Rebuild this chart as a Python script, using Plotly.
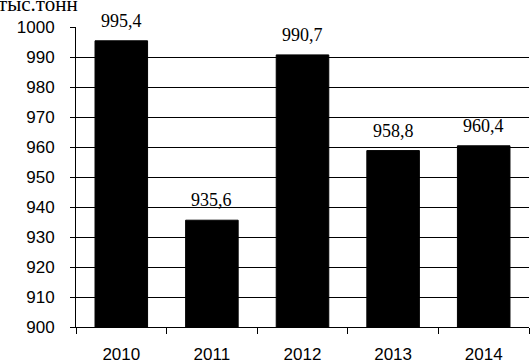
import plotly.graph_objects as go

years = ["2010", "2011", "2012", "2013", "2014"]
values = [995.4, 935.6, 990.7, 958.8, 960.4]
value_labels = ["995,4", "935,6", "990,7", "958,8", "960,4"]
y_ticks = [900, 910, 920, 930, 940, 950, 960, 970, 980, 990, 1000]
unit_label = "тыс.тонн"

fig = go.Figure(
    go.Bar(
        x=years,
        y=values,
        marker=dict(color="black", line=dict(color="black", width=1)),
        width=0.58,
    )
)

annotations = [
    dict(
        x=i,
        y=v,
        xref="x",
        yref="y",
        text=lbl,
        showarrow=False,
        xanchor="center",
        yanchor="bottom",
        yshift=8,
        font=dict(family="Liberation Serif", size=18, color="black"),
    )
    for i, (v, lbl) in enumerate(zip(values, value_labels))
]
annotations.append(
    dict(
        text=unit_label,
        xref="paper",
        yref="paper",
        x=-80 / 453,
        y=(327 - 4.0) / 300,
        xanchor="left",
        yanchor="middle",
        showarrow=False,
        font=dict(family="Liberation Serif", size=21, color="black"),
    )
)

fig.update_layout(
    width=532,
    height=362,
    margin=dict(l=76, r=3, t=27, b=35, autoexpand=False),
    paper_bgcolor="white",
    plot_bgcolor="white",
    showlegend=False,
    font=dict(family="Liberation Sans", size=17, color="black"),
    xaxis=dict(
        type="category",
        range=[-0.5, len(years) - 0.5],
        showline=True,
        linecolor="black",
        linewidth=1,
        ticks="outside",
        tickson="boundaries",
        ticklen=6,
        tickcolor="black",
        showgrid=False,
        automargin=False,
        tickfont=dict(family="Liberation Sans", size=17, color="black"),
        ticklabelstandoff=12,
    ),
    yaxis=dict(
        range=[900, 1000],
        tickvals=y_ticks,
        showline=True,
        linecolor="black",
        linewidth=1,
        ticks="outside",
        ticklen=5,
        tickcolor="black",
        showgrid=True,
        gridcolor="black",
        gridwidth=1,
        zeroline=False,
        automargin=False,
        tickfont=dict(family="Liberation Sans", size=17, color="black"),
        ticklabelstandoff=12,
    ),
    annotations=annotations,
    bargap=0.42,
)

fig.write_html(
    "out.html",
    config={"displayModeBar": False},
    post_script="document.body.style.margin='0';",
)
